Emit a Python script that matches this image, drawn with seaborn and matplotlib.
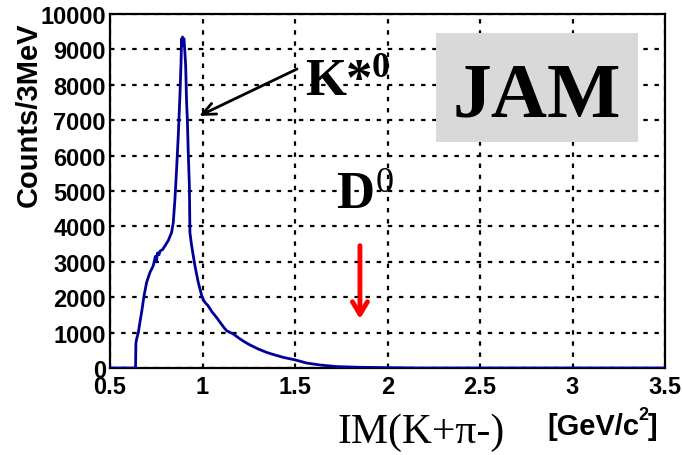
import matplotlib
matplotlib.use("Agg")
import matplotlib.pyplot as plt
from matplotlib.patches import Rectangle
from matplotlib.ticker import MultipleLocator
import seaborn as sns
import pandas as pd

# ---- data (IM(K+ pi-), counts per 3 MeV) ----
mass = [0.500, 0.638, 0.640, 0.644, 0.653, 0.662, 0.671, 0.684, 0.698, 0.716,
        0.734, 0.745, 0.750, 0.757, 0.765, 0.770, 0.785, 0.797, 0.815, 0.833,
        0.842, 0.851, 0.860, 0.869, 0.878, 0.884, 0.887, 0.889, 0.892, 0.896,
        0.900, 0.905, 0.909, 0.914, 0.918, 0.923, 0.929, 0.932, 0.940, 0.947,
        0.959, 0.977, 0.996, 1.005, 1.014, 1.030, 1.041, 1.055, 1.068, 1.080,
        1.095, 1.115, 1.131, 1.167, 1.203, 1.230, 1.257, 1.300, 1.347, 1.390,
        1.437, 1.500, 1.563, 1.635, 1.725, 1.850, 2.000, 2.080, 2.150, 3.500]
counts = [0, 0, 700, 820, 1000, 1300, 1580, 2040, 2420, 2700,
          2890, 3150, 3000, 3250, 3200, 3300, 3350, 3450, 3600, 3830,
          4110, 4770, 5620, 6560, 7690, 8640, 9300, 9100, 9350, 9250,
          9300, 8900, 8540, 7500, 7040, 6090, 5150, 3830, 3500, 3270,
          2890, 2420, 2040, 1920, 1850, 1760, 1670, 1560, 1480, 1400,
          1290, 1150, 1050, 960, 820, 730, 650, 540, 440, 370,
          300, 230, 140, 85, 40, 20, 10, 5, 0, 0]

xticks = [0.5, 1, 1.5, 2, 2.5, 3, 3.5]
xticklabels = ["0.5", "1", "1.5", "2", "2.5", "3", "3.5"]
yticks = [0, 1000, 2000, 3000, 4000, 5000, 6000, 7000, 8000, 9000, 10000]

df = pd.DataFrame({"mass": mass, "counts": counts})

sns.set_theme(style="white")
plt.rcParams["font.family"] = ["Liberation Sans", "DejaVu Sans"]
plt.rcParams["text.color"] = "black"
plt.rcParams["axes.labelcolor"] = "black"

W, H = 683, 456
fig = plt.figure(figsize=(W / 100, H / 100), dpi=100)
L, R, T, B = 110, 665, 15, 369
ax = fig.add_axes([L / W, 1 - B / H, (R - L) / W, (B - T) / H])

sns.lineplot(data=df, x="mass", y="counts", ax=ax, color="#000099",
             lw=2.0, sort=False, estimator=None, zorder=4)

ax.set_xlim(0.5, 3.5)
ax.set_ylim(0, 10000)
ax.set_xticks(xticks)
ax.set_xticklabels(xticklabels)
ax.set_yticks(yticks)
ax.set_yticklabels([str(v) for v in yticks])
ax.xaxis.set_minor_locator(MultipleLocator(0.1))
ax.yaxis.set_minor_locator(MultipleLocator(200))
ax.set_xlabel("")
ax.set_ylabel("")

ax.grid(True, which="major", color="black", lw=1.6, ls=(0, (2, 3)))
ax.set_axisbelow(True)
for s in ax.spines.values():
    s.set_color("black")
    s.set_linewidth(1.6)

ax.tick_params(axis="both", which="both", direction="in", colors="black",
               width=1.5, labelsize=17)
ax.tick_params(axis="y", which="major", length=7, pad=3)
ax.tick_params(axis="y", which="minor", length=5)
ax.tick_params(axis="x", which="major", length=7, pad=5)
ax.tick_params(axis="x", which="minor", length=4)
for lab in ax.get_xticklabels() + ax.get_yticklabels():
    lab.set_fontweight("bold")

def fx(px):
    return px / W

def fy(py):
    return 1 - py / H

# axis labels
fig.text(fx(29), fy(115), "Counts/3MeV", rotation=90, ha="center", va="center",
         fontsize=21, fontweight="bold", color="black")
fig.text(fx(421), fy(433), "IM(K+\u03c0-)", ha="center", va="center",
         fontsize=30, family=["Liberation Serif", "DejaVu Serif"], color="black")
fig.text(fx(547), fy(435), "[GeV/c", ha="left", va="baseline",
         fontsize=21, fontweight="bold", color="black")
fig.text(fx(638), fy(420), "2", ha="left", va="baseline",
         fontsize=13, fontweight="bold", color="black")
fig.text(fx(648), fy(435), "]", ha="left", va="baseline",
         fontsize=21, fontweight="bold", color="black")

serif = ["Liberation Serif", "DejaVu Serif"]
# K*0 label
fig.text(fx(305), fy(95), "K*", ha="left", va="baseline", fontsize=38,
         fontweight="bold", family=serif, color="black")
fig.text(fx(372), fy(77), "0", ha="left", va="baseline", fontsize=26,
         fontweight="bold", family=serif, color="black")
# D0 label
fig.text(fx(336), fy(208), "D", ha="left", va="baseline", fontsize=38,
         fontweight="bold", family=serif, color="black")
fig.text(fx(376), fy(192), "0", ha="left", va="baseline", fontsize=26,
         family=serif, color="black")

# JAM box
ax.add_patch(Rectangle((fx(436), fy(143)), fx(638) - fx(436), fy(34) - fy(143),
                       transform=fig.transFigure, facecolor="#d9d9d9",
                       edgecolor="none", zorder=5, clip_on=False))
fig.text(fx(537), fy(117), "JAM", ha="center", va="baseline", fontsize=56,
         fontweight="bold", family=serif, zorder=6, color="black")

# arrows
ax.annotate("", xy=(0.981, 7119), xytext=(1.511, 8446),
            arrowprops=dict(arrowstyle="->,head_length=0.8,head_width=0.35",
                            color="black", lw=2.0, shrinkA=0, shrinkB=0),
            zorder=6)
ax.annotate("", xy=(1.851, 1384), xytext=(1.851, 3455),
            arrowprops=dict(arrowstyle="->,head_length=0.75,head_width=0.45",
                            color="red", lw=3.5, shrinkA=0, shrinkB=0),
            zorder=6)

fig.savefig("out.png", dpi=100)
